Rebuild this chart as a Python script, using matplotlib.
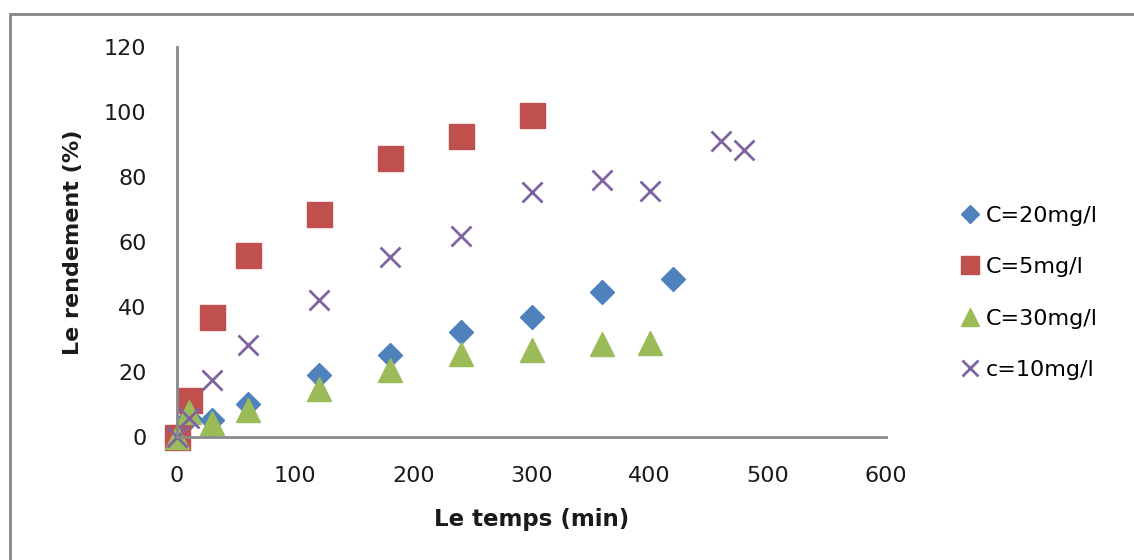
import matplotlib
matplotlib.use('Agg')
import matplotlib.pyplot as plt
from matplotlib.patches import Rectangle

# temps (min) et rendement (%) pour chaque concentration
t_20 = [0, 10, 30, 60, 120, 180, 240, 300, 360, 420]
y_20 = [0, 6, 5.2, 10.3, 19, 25.2, 32.3, 36.8, 44.6, 48.6]

t_5 = [0, 10, 30, 60, 120, 180, 240, 300]
y_5 = [0, 11.5, 37, 56, 68.5, 86, 92.5, 99]

t_30 = [0, 10, 30, 60, 120, 180, 240, 300, 360, 400]
y_30 = [0, 7.8, 4.2, 8.2, 14.8, 20.6, 25.4, 26.8, 28.5, 28.9]

t_10 = [0, 10, 30, 60, 120, 180, 240, 300, 360, 400, 460, 480]
y_10 = [0, 5.8, 17.5, 28.3, 42.3, 55.5, 62, 75.5, 79.1, 75.8, 91.1, 88.3]

labels = ['C=20mg/l', 'C=5mg/l', 'C=30mg/l', 'c=10mg/l']

plt.rcParams['font.family'] = ['DejaVu Sans']

fig = plt.figure(figsize=(11.34, 5.6), dpi=100)
ax = fig.add_axes([0.1561, 0.2196, 0.6252, 0.6964])

# outer chart border
fig.patches.append(Rectangle((0.0088, -0.05), 1.05, 1.025, transform=fig.transFigure,
                             fill=False, edgecolor='#858585', linewidth=2))

ax.plot(t_20, y_20, linestyle='none', marker='D', markersize=12.5, color='#4F81BD',
        label=labels[0], clip_on=False)
ax.plot(t_5, y_5, linestyle='none', marker='s', markersize=18, color='#C0504D',
        label=labels[1], clip_on=False)
ax.plot(t_30, y_30, linestyle='none', marker='^', markersize=17, color='#9BBB59',
        label=labels[2], clip_on=False)
ax.plot(t_10, y_10, linestyle='none', marker='x', markersize=15, markeredgewidth=2,
        color='#8064A2', label=labels[3], clip_on=False)

ax.set_xlim(0, 600)
ax.set_ylim(0, 120)
ax.set_xticks(range(0, 601, 100))
ax.set_yticks(range(0, 121, 20))
ax.tick_params(length=0, labelsize=16, labelcolor='#1a1a1a')
ax.tick_params(axis='y', pad=22)
ax.tick_params(axis='x', pad=21)

for s in ['top', 'right']:
    ax.spines[s].set_visible(False)
for s in ['left', 'bottom']:
    ax.spines[s].set_color('#8a8a8a')
    ax.spines[s].set_linewidth(2)

ax.set_xlabel('Le temps (min)', fontsize=16.5, fontweight='bold', color='#1a1a1a')
ax.set_ylabel('Le rendement (%)', fontsize=16, fontweight='bold', color='#1a1a1a')
ax.xaxis.set_label_coords(0.5, -0.182)
ax.yaxis.set_label_coords(-0.132, 0.5)

fig.legend(loc='center left', bbox_to_anchor=(0.83, 0.477), frameon=False,
           fontsize=16, markerscale=0.75, handlelength=0.8, handletextpad=0.3,
           labelspacing=1.42, numpoints=1)

fig.savefig('out.png', dpi=100)
